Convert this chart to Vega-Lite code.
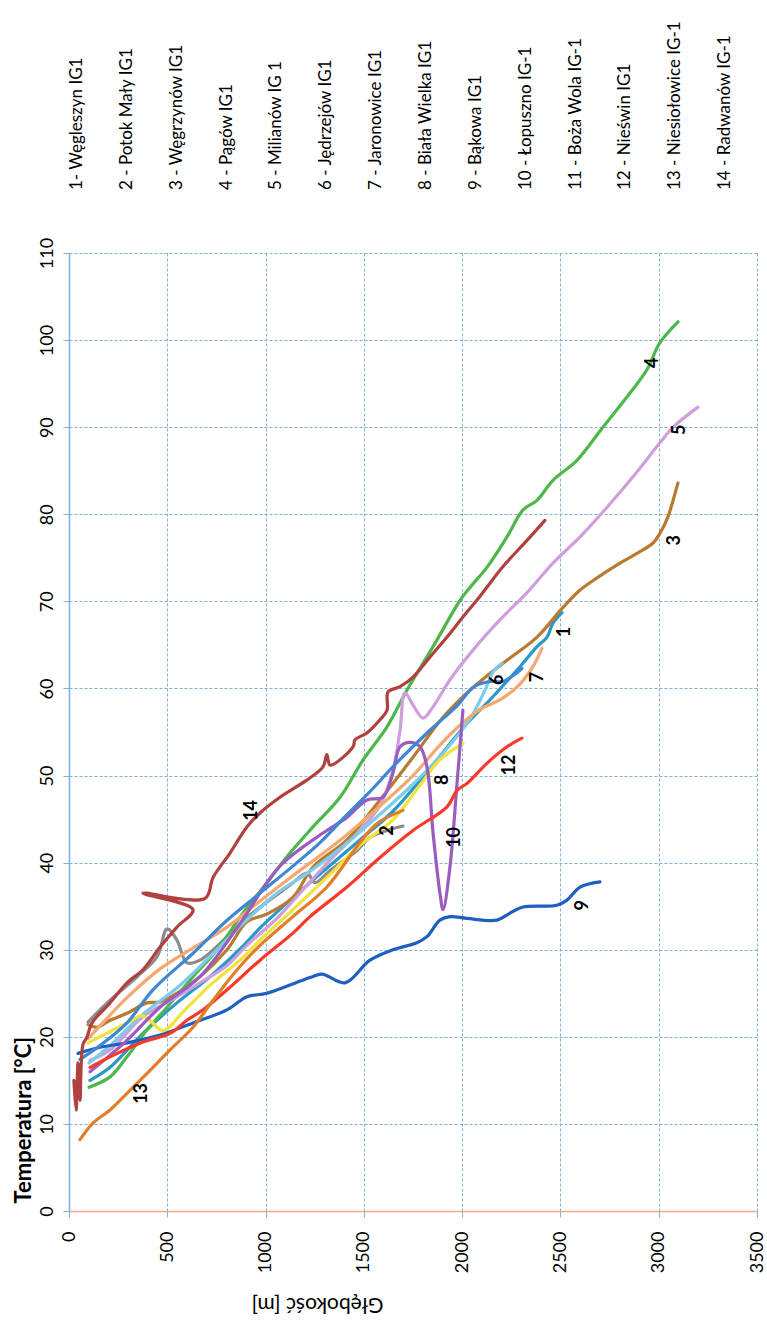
{
  "$schema": "https://vega.github.io/schema/vega-lite/v6.json",
  "background": "white",
  "padding": {"left": 12, "top": 0, "right": 5, "bottom": 24},
  "bounds": "flush",
  "spacing": 63,
  "config": {"view": {"stroke": null}, "font": "Lato"},
  "datasets": {
    "legend": [
      {"k": 1, "name": "1- Węgleszyn IG1"},
      {"k": 2, "name": "2 - Potok Mały IG1"},
      {"k": 3, "name": "3 - Węgrzynów IG1"},
      {"k": 4, "name": "4 - Pągów IG1"},
      {"k": 5, "name": "5 - Milianów IG 1"},
      {"k": 6, "name": "6 - Jędrzejów IG1"},
      {"k": 7, "name": "7 - Jaronowice IG1"},
      {"k": 8, "name": "8 - Biała Wielka IG1"},
      {"k": 9, "name": "9 - Bąkowa IG1"},
      {"k": 10, "name": "10 - Łopuszno IG-1"},
      {"k": 11, "name": "11 - Boża Wola IG-1"},
      {"k": 12, "name": "12 - Nieświn IG1"},
      {"k": 13, "name": "13 - Niesiołowice IG-1"},
      {"k": 14, "name": "14 - Radwanów IG-1"}
    ],
    "labels": [
      {"lab": "1", "d": 2523, "t": 66.5},
      {"lab": "2", "d": 1623, "t": 43.7},
      {"lab": "3", "d": 3083, "t": 77.0},
      {"lab": "4", "d": 2971, "t": 97.4},
      {"lab": "5", "d": 3108, "t": 89.7},
      {"lab": "6", "d": 2182, "t": 61.0},
      {"lab": "7", "d": 2386, "t": 61.3},
      {"lab": "8", "d": 1903, "t": 49.5},
      {"lab": "9", "d": 2615, "t": 35.1},
      {"lab": "10", "d": 1964, "t": 42.9},
      {"lab": "12", "d": 2243, "t": 51.2},
      {"lab": "13", "d": 370, "t": 13.5},
      {"lab": "14", "d": 931, "t": 46.0}
    ],
    "lines": [
      {"w": "1", "i": 0, "d": 107, "t": 15.0}, {"w": "1", "i": 1, "d": 209, "t": 16.5}, {"w": "1", "i": 2, "d": 376, "t": 20.4}, {"w": "1", "i": 3, "d": 549, "t": 23.9}, {"w": "1", "i": 4, "d": 717, "t": 26.9}, {"w": "1", "i": 5, "d": 885, "t": 30.4}, {"w": "1", "i": 6, "d": 972, "t": 32.5}, {"w": "1", "i": 7, "d": 1226, "t": 37.7}, {"w": "1", "i": 8, "d": 1480, "t": 42.6}, {"w": "1", "i": 9, "d": 1648, "t": 45.9}, {"w": "1", "i": 10, "d": 1821, "t": 50.4}, {"w": "1", "i": 11, "d": 2025, "t": 56.0}, {"w": "1", "i": 12, "d": 2142, "t": 58.7}, {"w": "1", "i": 13, "d": 2294, "t": 62.5}, {"w": "1", "i": 14, "d": 2381, "t": 64.8}, {"w": "1", "i": 15, "d": 2432, "t": 65.9}, {"w": "1", "i": 16, "d": 2462, "t": 67.5}, {"w": "1", "i": 17, "d": 2508, "t": 68.7},

      {"w": "2", "i": 0, "d": 97, "t": 21.7}, {"w": "2", "i": 1, "d": 209, "t": 24.2}, {"w": "2", "i": 2, "d": 346, "t": 26.9}, {"w": "2", "i": 3, "d": 448, "t": 29.2}, {"w": "2", "i": 4, "d": 499, "t": 32.4}, {"w": "2", "i": 5, "d": 549, "t": 31.1}, {"w": "2", "i": 6, "d": 600, "t": 28.5}, {"w": "2", "i": 7, "d": 666, "t": 28.8}, {"w": "2", "i": 8, "d": 921, "t": 34.0}, {"w": "2", "i": 9, "d": 1124, "t": 37.4}, {"w": "2", "i": 10, "d": 1211, "t": 38.8}, {"w": "2", "i": 11, "d": 1251, "t": 37.7}, {"w": "2", "i": 12, "d": 1328, "t": 39.1}, {"w": "2", "i": 13, "d": 1465, "t": 41.4}, {"w": "2", "i": 14, "d": 1531, "t": 42.9}, {"w": "2", "i": 15, "d": 1618, "t": 43.7}, {"w": "2", "i": 16, "d": 1699, "t": 44.2},

      {"w": "3", "i": 0, "d": 97, "t": 21.4}, {"w": "3", "i": 1, "d": 142, "t": 21.1}, {"w": "3", "i": 2, "d": 209, "t": 21.9}, {"w": "3", "i": 3, "d": 295, "t": 22.7}, {"w": "3", "i": 4, "d": 397, "t": 23.9}, {"w": "3", "i": 5, "d": 463, "t": 24.0}, {"w": "3", "i": 6, "d": 549, "t": 25.0}, {"w": "3", "i": 7, "d": 666, "t": 26.9}, {"w": "3", "i": 8, "d": 804, "t": 30.0}, {"w": "3", "i": 9, "d": 905, "t": 33.2}, {"w": "3", "i": 10, "d": 1007, "t": 34.1}, {"w": "3", "i": 11, "d": 1139, "t": 36.0}, {"w": "3", "i": 12, "d": 1241, "t": 39.5}, {"w": "3", "i": 13, "d": 1414, "t": 42.6}, {"w": "3", "i": 14, "d": 1582, "t": 47.2}, {"w": "3", "i": 15, "d": 1750, "t": 52.1}, {"w": "3", "i": 16, "d": 1903, "t": 56.7}, {"w": "3", "i": 17, "d": 2040, "t": 59.8}, {"w": "3", "i": 18, "d": 2208, "t": 62.9}, {"w": "3", "i": 19, "d": 2381, "t": 65.9}, {"w": "3", "i": 20, "d": 2513, "t": 69.3}, {"w": "3", "i": 21, "d": 2600, "t": 71.3}, {"w": "3", "i": 22, "d": 2686, "t": 72.7}, {"w": "3", "i": 23, "d": 2803, "t": 74.4}, {"w": "3", "i": 24, "d": 2889, "t": 75.5}, {"w": "3", "i": 25, "d": 2971, "t": 76.7}, {"w": "3", "i": 26, "d": 3006, "t": 77.8}, {"w": "3", "i": 27, "d": 3047, "t": 79.7}, {"w": "3", "i": 28, "d": 3073, "t": 81.6}, {"w": "3", "i": 29, "d": 3098, "t": 83.6},

      {"w": "4", "i": 0, "d": 102, "t": 14.2}, {"w": "4", "i": 1, "d": 209, "t": 15.4}, {"w": "4", "i": 2, "d": 295, "t": 17.7}, {"w": "4", "i": 3, "d": 397, "t": 20.8}, {"w": "4", "i": 4, "d": 499, "t": 23.4}, {"w": "4", "i": 5, "d": 631, "t": 26.9}, {"w": "4", "i": 6, "d": 753, "t": 30.0}, {"w": "4", "i": 7, "d": 885, "t": 34.2}, {"w": "4", "i": 8, "d": 1007, "t": 37.7}, {"w": "4", "i": 9, "d": 1124, "t": 41.1}, {"w": "4", "i": 10, "d": 1241, "t": 44.1}, {"w": "4", "i": 11, "d": 1379, "t": 47.5}, {"w": "4", "i": 12, "d": 1496, "t": 51.8}, {"w": "4", "i": 13, "d": 1618, "t": 55.6}, {"w": "4", "i": 14, "d": 1719, "t": 59.8}, {"w": "4", "i": 15, "d": 1852, "t": 64.8}, {"w": "4", "i": 16, "d": 1989, "t": 70.1}, {"w": "4", "i": 17, "d": 2040, "t": 71.6}, {"w": "4", "i": 18, "d": 2126, "t": 73.9}, {"w": "4", "i": 19, "d": 2228, "t": 77.4}, {"w": "4", "i": 20, "d": 2310, "t": 80.5}, {"w": "4", "i": 21, "d": 2381, "t": 81.6}, {"w": "4", "i": 22, "d": 2462, "t": 83.9}, {"w": "4", "i": 23, "d": 2584, "t": 86.2}, {"w": "4", "i": 24, "d": 2716, "t": 90.0}, {"w": "4", "i": 25, "d": 2839, "t": 93.5}, {"w": "4", "i": 26, "d": 2940, "t": 96.6}, {"w": "4", "i": 27, "d": 3006, "t": 99.7}, {"w": "4", "i": 28, "d": 3098, "t": 102.1},

      {"w": "5", "i": 0, "d": 107, "t": 17.3}, {"w": "5", "i": 1, "d": 209, "t": 18.5}, {"w": "5", "i": 2, "d": 376, "t": 22.3}, {"w": "5", "i": 3, "d": 549, "t": 24.6}, {"w": "5", "i": 4, "d": 666, "t": 26.2}, {"w": "5", "i": 5, "d": 804, "t": 28.2}, {"w": "5", "i": 6, "d": 905, "t": 30.5}, {"w": "5", "i": 7, "d": 1058, "t": 33.6}, {"w": "5", "i": 8, "d": 1175, "t": 36.5}, {"w": "5", "i": 9, "d": 1328, "t": 40.3}, {"w": "5", "i": 10, "d": 1480, "t": 43.7}, {"w": "5", "i": 11, "d": 1582, "t": 46.6}, {"w": "5", "i": 12, "d": 1648, "t": 50.6}, {"w": "5", "i": 13, "d": 1684, "t": 55.2}, {"w": "5", "i": 14, "d": 1709, "t": 59.5}, {"w": "5", "i": 15, "d": 1750, "t": 58.1}, {"w": "5", "i": 16, "d": 1801, "t": 56.6}, {"w": "5", "i": 17, "d": 1852, "t": 57.9}, {"w": "5", "i": 18, "d": 1938, "t": 61.0}, {"w": "5", "i": 19, "d": 2055, "t": 64.4}, {"w": "5", "i": 20, "d": 2193, "t": 67.9}, {"w": "5", "i": 21, "d": 2330, "t": 71.0}, {"w": "5", "i": 22, "d": 2462, "t": 74.4}, {"w": "5", "i": 23, "d": 2600, "t": 77.4}, {"w": "5", "i": 24, "d": 2737, "t": 80.8}, {"w": "5", "i": 25, "d": 2869, "t": 84.3}, {"w": "5", "i": 26, "d": 3006, "t": 88.2}, {"w": "5", "i": 27, "d": 3073, "t": 90.0}, {"w": "5", "i": 28, "d": 3200, "t": 92.3},

      {"w": "6", "i": 0, "d": 102, "t": 17.0}, {"w": "6", "i": 1, "d": 209, "t": 19.0}, {"w": "6", "i": 2, "d": 376, "t": 22.6}, {"w": "6", "i": 3, "d": 549, "t": 25.6}, {"w": "6", "i": 4, "d": 717, "t": 29.2}, {"w": "6", "i": 5, "d": 885, "t": 33.0}, {"w": "6", "i": 6, "d": 1058, "t": 36.5}, {"w": "6", "i": 7, "d": 1226, "t": 39.0}, {"w": "6", "i": 8, "d": 1400, "t": 42.0}, {"w": "6", "i": 9, "d": 1580, "t": 45.5}, {"w": "6", "i": 10, "d": 1750, "t": 49.0}, {"w": "6", "i": 11, "d": 1900, "t": 52.5}, {"w": "6", "i": 12, "d": 2040, "t": 56.5}, {"w": "6", "i": 13, "d": 2120, "t": 60.0}, {"w": "6", "i": 14, "d": 2160, "t": 62.0}, {"w": "6", "i": 15, "d": 2203, "t": 62.9},

      {"w": "7", "i": 0, "d": 97, "t": 19.8}, {"w": "7", "i": 1, "d": 209, "t": 22.5}, {"w": "7", "i": 2, "d": 295, "t": 24.5}, {"w": "7", "i": 3, "d": 463, "t": 27.8}, {"w": "7", "i": 4, "d": 631, "t": 30.2}, {"w": "7", "i": 5, "d": 804, "t": 32.6}, {"w": "7", "i": 6, "d": 972, "t": 35.6}, {"w": "7", "i": 7, "d": 1139, "t": 38.5}, {"w": "7", "i": 8, "d": 1300, "t": 41.2}, {"w": "7", "i": 9, "d": 1414, "t": 43.2}, {"w": "7", "i": 10, "d": 1582, "t": 46.5}, {"w": "7", "i": 11, "d": 1750, "t": 50.0}, {"w": "7", "i": 12, "d": 1887, "t": 53.5}, {"w": "7", "i": 13, "d": 2000, "t": 56.0}, {"w": "7", "i": 14, "d": 2091, "t": 57.6}, {"w": "7", "i": 15, "d": 2200, "t": 58.8}, {"w": "7", "i": 16, "d": 2294, "t": 60.5}, {"w": "7", "i": 17, "d": 2360, "t": 62.5}, {"w": "7", "i": 18, "d": 2406, "t": 64.6},

      {"w": "8", "i": 0, "d": 97, "t": 19.3}, {"w": "8", "i": 1, "d": 209, "t": 20.6}, {"w": "8", "i": 2, "d": 295, "t": 21.6}, {"w": "8", "i": 3, "d": 371, "t": 22.4}, {"w": "8", "i": 4, "d": 412, "t": 21.9}, {"w": "8", "i": 5, "d": 478, "t": 20.7}, {"w": "8", "i": 6, "d": 590, "t": 23.1}, {"w": "8", "i": 7, "d": 717, "t": 25.9}, {"w": "8", "i": 8, "d": 870, "t": 28.8}, {"w": "8", "i": 9, "d": 972, "t": 31.1}, {"w": "8", "i": 10, "d": 1139, "t": 34.6}, {"w": "8", "i": 11, "d": 1312, "t": 38.3}, {"w": "8", "i": 12, "d": 1480, "t": 42.0}, {"w": "8", "i": 13, "d": 1648, "t": 44.9}, {"w": "8", "i": 14, "d": 1786, "t": 48.9}, {"w": "8", "i": 15, "d": 1887, "t": 51.8}, {"w": "8", "i": 16, "d": 2004, "t": 53.7},

      {"w": "9", "i": 0, "d": 46, "t": 18.1}, {"w": "9", "i": 1, "d": 158, "t": 18.8}, {"w": "9", "i": 2, "d": 295, "t": 19.3}, {"w": "9", "i": 3, "d": 463, "t": 20.2}, {"w": "9", "i": 4, "d": 631, "t": 21.6}, {"w": "9", "i": 5, "d": 804, "t": 23.1}, {"w": "9", "i": 6, "d": 905, "t": 24.6}, {"w": "9", "i": 7, "d": 1007, "t": 25.0}, {"w": "9", "i": 8, "d": 1226, "t": 26.8}, {"w": "9", "i": 9, "d": 1287, "t": 27.2}, {"w": "9", "i": 10, "d": 1404, "t": 26.2}, {"w": "9", "i": 11, "d": 1531, "t": 28.8}, {"w": "9", "i": 12, "d": 1648, "t": 30.0}, {"w": "9", "i": 13, "d": 1770, "t": 30.8}, {"w": "9", "i": 14, "d": 1821, "t": 31.5}, {"w": "9", "i": 15, "d": 1887, "t": 33.4}, {"w": "9", "i": 16, "d": 1938, "t": 33.8}, {"w": "9", "i": 17, "d": 2025, "t": 33.6}, {"w": "9", "i": 18, "d": 2177, "t": 33.4}, {"w": "9", "i": 19, "d": 2243, "t": 34.2}, {"w": "9", "i": 20, "d": 2310, "t": 34.9}, {"w": "9", "i": 21, "d": 2482, "t": 35.1}, {"w": "9", "i": 22, "d": 2533, "t": 35.7}, {"w": "9", "i": 23, "d": 2600, "t": 37.2}, {"w": "9", "i": 24, "d": 2701, "t": 37.8},

      {"w": "10", "i": 0, "d": 107, "t": 16.0}, {"w": "10", "i": 1, "d": 209, "t": 17.9}, {"w": "10", "i": 2, "d": 295, "t": 19.6}, {"w": "10", "i": 3, "d": 463, "t": 23.4}, {"w": "10", "i": 4, "d": 666, "t": 26.9}, {"w": "10", "i": 5, "d": 870, "t": 33.0}, {"w": "10", "i": 6, "d": 1073, "t": 39.6}, {"w": "10", "i": 7, "d": 1292, "t": 43.4}, {"w": "10", "i": 8, "d": 1414, "t": 45.2}, {"w": "10", "i": 9, "d": 1516, "t": 47.2}, {"w": "10", "i": 10, "d": 1597, "t": 47.5}, {"w": "10", "i": 11, "d": 1648, "t": 50.3}, {"w": "10", "i": 12, "d": 1684, "t": 53.3}, {"w": "10", "i": 13, "d": 1735, "t": 53.8}, {"w": "10", "i": 14, "d": 1786, "t": 53.3}, {"w": "10", "i": 15, "d": 1821, "t": 51.0}, {"w": "10", "i": 16, "d": 1852, "t": 43.4}, {"w": "10", "i": 17, "d": 1887, "t": 36.5}, {"w": "10", "i": 18, "d": 1903, "t": 34.6}, {"w": "10", "i": 19, "d": 1938, "t": 39.5}, {"w": "10", "i": 20, "d": 1974, "t": 49.1}, {"w": "10", "i": 21, "d": 2004, "t": 57.5},

      {"w": "11", "i": 0, "d": 56, "t": 17.4}, {"w": "11", "i": 1, "d": 158, "t": 19.0}, {"w": "11", "i": 2, "d": 295, "t": 21.6}, {"w": "11", "i": 3, "d": 427, "t": 25.4}, {"w": "11", "i": 4, "d": 631, "t": 29.6}, {"w": "11", "i": 5, "d": 800, "t": 33.3}, {"w": "11", "i": 6, "d": 972, "t": 36.5}, {"w": "11", "i": 7, "d": 1160, "t": 40.0}, {"w": "11", "i": 8, "d": 1277, "t": 42.3}, {"w": "11", "i": 9, "d": 1414, "t": 45.5}, {"w": "11", "i": 10, "d": 1516, "t": 47.8}, {"w": "11", "i": 11, "d": 1669, "t": 51.5}, {"w": "11", "i": 12, "d": 1836, "t": 55.2}, {"w": "11", "i": 13, "d": 1974, "t": 58.0}, {"w": "11", "i": 14, "d": 2060, "t": 60.2}, {"w": "11", "i": 15, "d": 2142, "t": 60.8}, {"w": "11", "i": 16, "d": 2208, "t": 60.8}, {"w": "11", "i": 17, "d": 2260, "t": 61.5}, {"w": "11", "i": 18, "d": 2304, "t": 62.3},

      {"w": "12", "i": 0, "d": 107, "t": 16.5}, {"w": "12", "i": 1, "d": 209, "t": 17.7}, {"w": "12", "i": 2, "d": 376, "t": 19.4}, {"w": "12", "i": 3, "d": 514, "t": 20.4}, {"w": "12", "i": 4, "d": 600, "t": 21.9}, {"w": "12", "i": 5, "d": 682, "t": 23.1}, {"w": "12", "i": 6, "d": 804, "t": 25.4}, {"w": "12", "i": 7, "d": 972, "t": 28.8}, {"w": "12", "i": 8, "d": 1139, "t": 31.9}, {"w": "12", "i": 9, "d": 1226, "t": 33.8}, {"w": "12", "i": 10, "d": 1414, "t": 37.2}, {"w": "12", "i": 11, "d": 1582, "t": 40.6}, {"w": "12", "i": 12, "d": 1750, "t": 43.7}, {"w": "12", "i": 13, "d": 1923, "t": 46.4}, {"w": "12", "i": 14, "d": 1974, "t": 48.3}, {"w": "12", "i": 15, "d": 2025, "t": 49.1}, {"w": "12", "i": 16, "d": 2126, "t": 51.4}, {"w": "12", "i": 17, "d": 2228, "t": 53.3}, {"w": "12", "i": 18, "d": 2304, "t": 54.3},

      {"w": "13", "i": 0, "d": 56, "t": 8.2}, {"w": "13", "i": 1, "d": 122, "t": 10.1}, {"w": "13", "i": 2, "d": 209, "t": 11.6}, {"w": "13", "i": 3, "d": 295, "t": 13.5}, {"w": "13", "i": 4, "d": 397, "t": 15.8}, {"w": "13", "i": 5, "d": 514, "t": 18.5}, {"w": "13", "i": 6, "d": 631, "t": 21.1}, {"w": "13", "i": 7, "d": 733, "t": 24.2}, {"w": "13", "i": 8, "d": 855, "t": 27.7}, {"w": "13", "i": 9, "d": 972, "t": 30.5}, {"w": "13", "i": 10, "d": 1139, "t": 33.8}, {"w": "13", "i": 11, "d": 1312, "t": 37.2}, {"w": "13", "i": 12, "d": 1480, "t": 42.3}, {"w": "13", "i": 13, "d": 1567, "t": 44.5}, {"w": "13", "i": 14, "d": 1699, "t": 46.0},

      {"w": "14", "i": 0, "d": 25, "t": 15.0}, {"w": "14", "i": 1, "d": 36, "t": 11.6}, {"w": "14", "i": 2, "d": 46, "t": 17.0}, {"w": "14", "i": 3, "d": 56, "t": 12.7}, {"w": "14", "i": 4, "d": 71, "t": 19.1}, {"w": "14", "i": 5, "d": 92, "t": 20.0}, {"w": "14", "i": 6, "d": 117, "t": 21.6}, {"w": "14", "i": 7, "d": 209, "t": 23.9}, {"w": "14", "i": 8, "d": 295, "t": 26.2}, {"w": "14", "i": 9, "d": 376, "t": 27.7}, {"w": "14", "i": 10, "d": 463, "t": 30.3}, {"w": "14", "i": 11, "d": 549, "t": 32.6}, {"w": "14", "i": 12, "d": 631, "t": 34.6}, {"w": "14", "i": 13, "d": 376, "t": 36.5}, {"w": "14", "i": 14, "d": 692, "t": 35.9}, {"w": "14", "i": 15, "d": 733, "t": 38.3}, {"w": "14", "i": 16, "d": 819, "t": 41.1}, {"w": "14", "i": 17, "d": 905, "t": 44.1}, {"w": "14", "i": 18, "d": 972, "t": 45.7}, {"w": "14", "i": 19, "d": 1073, "t": 47.5}, {"w": "14", "i": 20, "d": 1211, "t": 49.5}, {"w": "14", "i": 21, "d": 1292, "t": 51.0}, {"w": "14", "i": 22, "d": 1312, "t": 52.4}, {"w": "14", "i": 23, "d": 1328, "t": 51.2}, {"w": "14", "i": 24, "d": 1445, "t": 53.3}, {"w": "14", "i": 25, "d": 1455, "t": 54.1}, {"w": "14", "i": 26, "d": 1516, "t": 54.9}, {"w": "14", "i": 27, "d": 1582, "t": 56.4}, {"w": "14", "i": 28, "d": 1618, "t": 57.5}, {"w": "14", "i": 29, "d": 1623, "t": 59.6}, {"w": "14", "i": 30, "d": 1684, "t": 60.2}, {"w": "14", "i": 31, "d": 1750, "t": 61.3}, {"w": "14", "i": 32, "d": 1836, "t": 63.6}, {"w": "14", "i": 33, "d": 1923, "t": 65.9}, {"w": "14", "i": 34, "d": 2004, "t": 68.2}, {"w": "14", "i": 35, "d": 2091, "t": 70.6}, {"w": "14", "i": 36, "d": 2208, "t": 74.0}, {"w": "14", "i": 37, "d": 2330, "t": 77.0}, {"w": "14", "i": 38, "d": 2421, "t": 79.3}
    ]
  },
  "vconcat": [
    {
      "width": 688,
      "height": 190,
      "data": {"name": "legend"},
      "mark": {"type": "text", "angle": 270, "align": "left", "baseline": "middle", "font": "Lato", "fontSize": 17, "color": "black"},
      "encoding": {
        "x": {"field": "k", "type": "quantitative", "scale": {"domain": [0.84, 14.64]}, "axis": null},
        "y": {"datum": 0, "type": "quantitative", "scale": {"domain": [0, 1]}, "axis": null},
        "text": {"field": "name"}
      }
    },
    {
      "width": 688,
      "height": 958,
      "layer": [
        {
          "data": {"name": "lines"},
          "mark": {"type": "line", "strokeWidth": 3.2, "strokeCap": "round", "strokeJoin": "round", "interpolate": "catmull-rom"},
          "encoding": {
            "x": {
              "field": "d", "type": "quantitative",
              "scale": {"domain": [0, 3500], "nice": false},
              "axis": {
                "values": [0, 500, 1000, 1500, 2000, 2500, 3000, 3500], "format": "d",
                "labelAngle": 270, "labelAlign": "right", "labelBaseline": "middle",
                "labelFont": "Lato", "labelFontSize": 18, "labelColor": "black", "labelPadding": 14,
                "tickSize": 6, "tickColor": "#7eb0d8", "domainColor": "#f2a98a", "domainWidth": 1.5,
                "grid": true, "gridColor": "#7eb0d8", "gridDash": [3, 2], "gridWidth": 1,
                "title": "Głębokość [m]", "titleAngle": 180, "titleFont": "Lato", "titleFontSize": 21,
                "titleFontWeight": "normal", "titleColor": "black", "titleAlign": "center", "titleBaseline": "middle",
                "titleX": 248, "titleY": 92
              }
            },
            "y": {
              "field": "t", "type": "quantitative",
              "scale": {"domain": [0, 110], "nice": false},
              "axis": {
                "values": [0, 10, 20, 30, 40, 50, 60, 70, 80, 90, 100, 110],
                "labelAngle": 270, "labelAlign": "center", "labelBaseline": "alphabetic",
                "labelFont": "Lato", "labelFontSize": 18, "labelColor": "black", "labelPadding": 11,
                "tickSize": 6, "tickColor": "#7eb0d8", "domainColor": "#7eb0d8", "domainWidth": 1.5,
                "grid": true, "gridColor": "#7eb0d8", "gridDash": [3, 2], "gridWidth": 1,
                "title": "Temperatura [°C]", "titleAngle": 270, "titleFont": "Lato", "titleFontSize": 22,
                "titleFontWeight": "bold", "titleColor": "black", "titleAlign": "left", "titleBaseline": "middle",
                "titleX": -46, "titleY": 950
              }
            },
            "color": {
              "field": "w", "type": "nominal",
              "scale": {
                "domain": ["1", "2", "3", "4", "5", "6", "7", "8", "9", "10", "11", "12", "13", "14"],
                "range": ["#2b98c9", "#8c8c8c", "#b87a2e", "#4cb84a", "#cf9fdc", "#7ccbe8", "#f5a86e", "#f2e23a", "#1f5fc0", "#9b5cbf", "#3e86d6", "#f83a2a", "#e07e2c", "#b0413e"]
              },
              "legend": null
            },
            "order": {"field": "i", "type": "quantitative"}
          }
        },
        {
          "data": {"name": "labels"},
          "mark": {"type": "text", "angle": 270, "align": "center", "baseline": "middle", "font": "Lato", "fontSize": 18, "fontWeight": "bold", "color": "black"},
          "encoding": {
            "x": {"field": "d", "type": "quantitative"},
            "y": {"field": "t", "type": "quantitative"},
            "text": {"field": "lab"}
          }
        }
      ]
    }
  ]
}
